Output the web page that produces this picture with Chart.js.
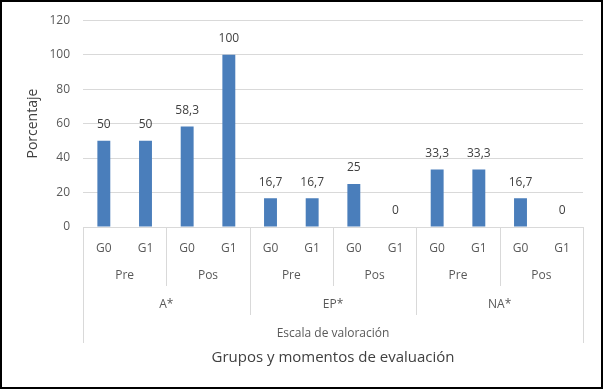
<!DOCTYPE html>
<html>
<head>
<meta charset="utf-8">
<script src="https://cdn.jsdelivr.net/npm/chart.js@4.4.1/dist/chart.umd.min.js"></script>
<style>
html,body{margin:0;padding:0;background:#fff;}
#wrap{width:603px;height:389px;position:relative;}
canvas{display:block;}
</style>
</head>
<body>
<div id="wrap"><canvas id="c" width="603" height="389"></canvas></div>
<script>
// ---- data ----
const groups = ['G0', 'G1'];
const moments = ['Pre', 'Pos'];
const ratings = ['A*', 'EP*', 'NA*'];
const outerLabel = 'Escala de valoración';
const axisTitle = 'Grupos y momentos de evaluación';
const yTitle = 'Porcentaje';
const values = [50, 50, 58.3, 100, 16.7, 16.7, 25, 0, 33.3, 33.3, 16.7, 0];
const yTicks = [0, 20, 40, 60, 80, 100, 120];

const labels = [];
ratings.forEach(() => moments.forEach(() => groups.forEach(g => labels.push(g))));

const FONT = "'Open Sans', 'Noto Sans', sans-serif";
const fmt = v => String(v).replace('.', ',');

const tierPlugin = {
  id: 'tiers',
  afterDraw(chart) {
    const ctx = chart.ctx;
    const xs = chart.scales.x;
    const area = chart.chartArea;
    const n = labels.length;
    const half = (xs.getPixelForValue(1) - xs.getPixelForValue(0)) / 2;
    const edge = i => xs.getPixelForValue(i) - half; // left edge of category i
    const y0 = area.bottom;
    ctx.save();
    // separators
    ctx.strokeStyle = '#d9d9d9';
    ctx.lineWidth = 1;
    const perMoment = groups.length;
    const perRating = groups.length * moments.length;
    for (let i = 0; i <= n; i++) {
      let len = 0;
      if (i === 0 || i === n) len = 116;
      else if (i % perRating === 0) len = 88;
      else if (i % perMoment === 0) len = 59;
      if (len) {
        const x = Math.round(edge(i)) + 0.5;
        ctx.beginPath(); ctx.moveTo(x, y0); ctx.lineTo(x, y0 + len); ctx.stroke();
      }
    }
    ctx.fillStyle = '#595959';
    ctx.textAlign = 'center';
    ctx.textBaseline = 'middle';
    ctx.font = "12px " + FONT;
    // moments tier
    for (let m = 0; m < n / perMoment; m++) {
      const cx = (edge(m * perMoment) + edge((m + 1) * perMoment)) / 2;
      ctx.fillText(moments[m % moments.length], cx, y0 + 49);
    }
    // ratings tier
    for (let r = 0; r < ratings.length; r++) {
      const cx = (edge(r * perRating) + edge((r + 1) * perRating)) / 2;
      ctx.fillText(ratings[r], cx, y0 + 78);
    }
    // outer label
    ctx.fillText(outerLabel, (edge(0) + edge(n)) / 2, y0 + 107);
    // title
    ctx.fillStyle = '#404040';
    ctx.font = "15px " + FONT;
    ctx.fillText(axisTitle, (edge(0) + edge(n)) / 2, y0 + 131);
    // data labels
    const meta = chart.getDatasetMeta(0);
    ctx.font = "12px " + FONT;
    ctx.fillStyle = '#404040';
    meta.data.forEach((bar, i) => {
      ctx.fillText(fmt(values[i]), bar.x, bar.y - 16);
    });
    // border
    ctx.strokeStyle = '#000';
    ctx.lineWidth = 2;
    ctx.strokeRect(1, 1, chart.width - 2, chart.height - 2);
    ctx.restore();
  }
};

new Chart(document.getElementById('c'), {
  type: 'bar',
  data: {
    labels: labels,
    datasets: [{
      data: values,
      backgroundColor: '#4a7ebb',
      categoryPercentage: 1,
      barPercentage: 0.31
    }]
  },
  options: {
    responsive: false,
    animation: false,
    events: [],
    layout: { padding: { top: 19, right: 20, left: 0, bottom: 0 } },
    plugins: { legend: { display: false }, tooltip: { enabled: false } },
    scales: {
      x: {
        grid: { display: false },
        border: { display: true, color: '#d9d9d9' },
        ticks: { color: '#595959', font: { family: FONT, size: 12 }, padding: 6, maxRotation: 0, autoSkip: false },
        afterFit: s => { s.height = 162; }
      },
      y: {
        min: 0, max: 120,
        afterBuildTicks: s => { s.ticks = yTicks.map(v => ({ value: v })); },
        grid: { color: '#d9d9d9', drawTicks: false },
        border: { display: false },
        ticks: { color: '#595959', font: { family: FONT, size: 12 }, padding: 13 },
        title: { display: true, text: yTitle, color: '#404040', font: { family: FONT, size: 14 }, padding: { top: 25 } },
        afterFit: s => { s.width = 83; }
      }
    }
  },
  plugins: [tierPlugin]
});
</script>
</body>
</html>
